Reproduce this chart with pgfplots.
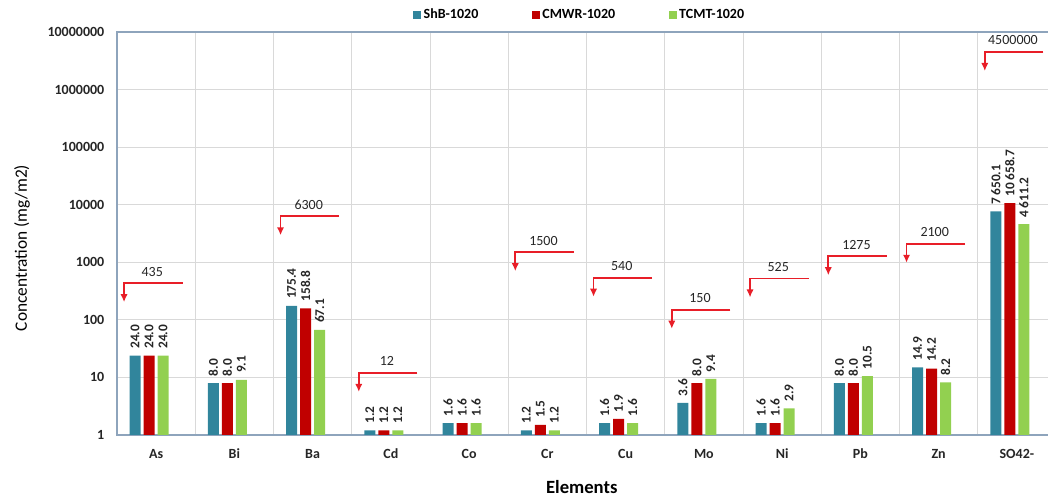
\documentclass[border=0pt]{standalone}
\usepackage{pgfplots}
\pgfplotsset{compat=1.18}
\usepackage{fontspec}
\setmainfont{Carlito}
\usetikzlibrary{arrows.meta}
\definecolor{cShB}{HTML}{31859C}
\definecolor{cCMWR}{HTML}{C00000}
\definecolor{cTCMT}{HTML}{92D050}
\definecolor{limred}{RGB}{232,30,40}
\definecolor{gridc}{HTML}{D9D9D9}
\definecolor{axc}{HTML}{8EA4BC}
\tikzset{limlab/.style={anchor=south, inner sep=2pt, yshift=3pt, font=\fontsize{10.5}{12}\selectfont, text=black!85}}
\pgfplotsset{limstyle/.style={forget plot, sharp plot, limred, line width=1.3pt, mark=none, fill=none,
   -{Latex[length=6pt,width=5.5pt]}}}
\begin{document}
\begin{tikzpicture}
\begin{axis}[
  ybar, bar width=8.25pt,
  at={(87.75pt,47.25pt)}, anchor=south west,
  scale only axis, width=704.25pt, height=302.25pt,
  ymode=log, ymin=1, ymax=10000000, log origin=infty,
  xmin=-0.5, xmax=11.5,
  xtick={0,...,11},
  xticklabels={As,Bi,Ba,Cd,Co,Cr,Cu,Mo,Ni,Pb,Zn,SO42-},
  minor xtick={-0.5,0.5,...,11.5},
  ytick={1,10,100,1000,10000,100000,1000000,10000000},
  yticklabels={1,10,100,1000,10000,100000,1000000,10000000},
  yminorticks=false,
  major tick length=0pt, minor tick length=0pt,
  xminorgrids=true, ymajorgrids=true, xmajorgrids=false,
  grid style={gridc, line width=0.6pt},
  minor grid style={gridc, line width=0.6pt},
  axis line style={axc, line width=0.9pt},
  ticklabel style={font=\bfseries\fontsize{10.5}{12}\selectfont, text=black!85},
  yticklabel style={xshift=-6pt},
  xticklabel style={yshift=-7pt},
  xlabel={Elements},
  xlabel style={at={(axis description cs:0.495,-0.129)}, anchor=center, font=\bfseries\fontsize{14}{16}\selectfont},
  ylabel={Concentration (mg/m2)},
  ylabel style={at={(axis description cs:-0.1012,0.464)}, anchor=center, rotate=0, font=\fontsize{13}{15}\selectfont},
  legend style={at={(axis description cs:0.493,1.042)}, anchor=center, draw=none, fill=none,
    legend columns=3, font=\bfseries\fontsize{10.5}{12}\selectfont,
    /tikz/every even column/.append style={column sep=38pt}},
  legend image code/.code={\fill[#1] (0pt,-3pt) rectangle (6pt,3pt);},
  nodes near coords style={rotate=90, anchor=west, inner sep=5pt,
    font=\bfseries\fontsize{10}{11}\selectfont, text=black!85},
  point meta=explicit symbolic,
]
\addplot[bar shift=-15.75pt, fill=cShB, draw=none, nodes near coords]
 coordinates {(0,24.0)[24.0] (1,8.0)[8.0] (2,175.4)[175.4] (3,1.2)[1.2] (4,1.6)[1.6] (5,1.2)[1.2]
  (6,1.6)[1.6] (7,3.6)[3.6] (8,1.6)[1.6] (9,8.0)[8.0] (10,14.9)[14.9] (11,7650.1)[7\,650.1]};
\addlegendentry{ShB-1020}
\addplot[bar shift=-5.25pt, fill=cCMWR, draw=none, nodes near coords]
 coordinates {(0,24.0)[24.0] (1,8.0)[8.0] (2,158.8)[158.8] (3,1.2)[1.2] (4,1.6)[1.6] (5,1.5)[1.5]
  (6,1.9)[1.9] (7,8.0)[8.0] (8,1.6)[1.6] (9,8.0)[8.0] (10,14.2)[14.2] (11,10658.7)[10\,658.7]};
\addlegendentry{CMWR-1020}
\addplot[bar shift=5.25pt, fill=cTCMT, draw=none, nodes near coords]
 coordinates {(0,24.0)[24.0] (1,9.1)[9.1] (2,67.1)[67.1] (3,1.2)[1.2] (4,1.6)[1.6] (5,1.2)[1.2]
  (6,1.6)[1.6] (7,9.4)[9.4] (8,2.9)[2.9] (9,10.5)[10.5] (10,8.2)[8.2] (11,4611.2)[4\,611.2]};
\addlegendentry{TCMT-1020}
\addplot[limstyle] coordinates {(0.34,435) (-0.41,435) (-0.41,203)};
\addplot[limstyle] coordinates {(2.34,6300) (1.59,6300) (1.59,2944)};
\addplot[limstyle] coordinates {(3.34,12) (2.59,12) (2.59,5.61)};
\addplot[limstyle] coordinates {(5.34,1500) (4.59,1500) (4.59,701)};
\addplot[limstyle] coordinates {(6.34,540) (5.59,540) (5.59,252)};
\addplot[limstyle] coordinates {(7.34,150) (6.59,150) (6.59,70.1)};
\addplot[limstyle] coordinates {(8.34,525) (7.59,525) (7.59,245)};
\addplot[limstyle] coordinates {(9.34,1275) (8.59,1275) (8.59,596)};
\addplot[limstyle] coordinates {(10.34,2100) (9.59,2100) (9.59,981)};
\addplot[limstyle] coordinates {(11.34,4500000) (10.59,4500000) (10.59,2102804)};
\node[limlab] at (axis cs:-0.05,435) {435};
\node[limlab] at (axis cs:1.95,6300) {6300};
\node[limlab] at (axis cs:2.95,12) {12};
\node[limlab] at (axis cs:4.95,1500) {1500};
\node[limlab] at (axis cs:5.95,540) {540};
\node[limlab] at (axis cs:6.95,150) {150};
\node[limlab] at (axis cs:7.95,525) {525};
\node[limlab] at (axis cs:8.95,1275) {1275};
\node[limlab] at (axis cs:9.95,2100) {2100};
\node[limlab] at (axis cs:10.95,4500000) {4500000};
\end{axis}
\pgfresetboundingbox
\path[use as bounding box] (0,0) rectangle (786pt,373.5pt);
\end{tikzpicture}
\end{document}
